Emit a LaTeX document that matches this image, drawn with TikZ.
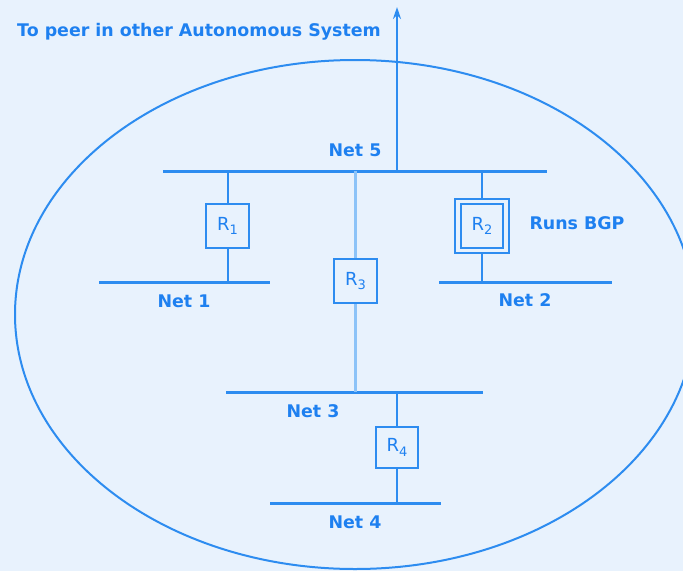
\documentclass[tikz,border=0pt]{standalone}
\usepackage{fontspec}
\setmainfont{DejaVu Sans}
\usetikzlibrary{arrows.meta}

\definecolor{bgblue}{RGB}{232,242,253}
\definecolor{lineblue}{RGB}{45,140,240}
\definecolor{paleblue}{RGB}{140,195,248}
\definecolor{textblue}{RGB}{30,128,240}

\newcommand\rlab[1]{R\raisebox{-.45ex}{\fontsize{13}{13}\selectfont #1}}

\tikzset{
    bus/.style={lineblue, line width=3pt},
    link/.style={lineblue, line width=2pt},
    router/.style={draw=lineblue, line width=2pt, minimum width=43pt, minimum height=44pt,
        inner sep=0pt, text=textblue, font=\fontsize{18}{18}\selectfont},
    netlabel/.style={text=textblue, font=\fontsize{17.4}{17.4}\selectfont\bfseries, inner sep=0pt}
}

\begin{document}
\begin{tikzpicture}[x=1pt, y=-1pt]
    \fill[bgblue] (0,0) rectangle (683,571);
    \useasboundingbox (0,0) rectangle (683,571);
    \clip (0,0) rectangle (683,571);

    % the autonomous system
    \draw[lineblue, line width=2pt] (355,314.5) ellipse [x radius=340, y radius=254.5];

    % buses
    \coordinate (n5l) at (163,171);  \coordinate (n5r) at (547,171);
    \coordinate (n1l) at (99,282);   \coordinate (n1r) at (270,282);
    \coordinate (n2l) at (439,282);  \coordinate (n2r) at (612,282);
    \coordinate (n3l) at (226,392);  \coordinate (n3r) at (483,392);
    \coordinate (n4l) at (270,503);  \coordinate (n4r) at (441,503);
    \draw[bus] (n5l) -- (n5r);
    \draw[bus] (n1l) -- (n1r);
    \draw[bus] (n2l) -- (n2r);
    \draw[bus] (n3l) -- (n3r);
    \draw[bus] (n4l) -- (n4r);

    % routers
    \node[router] (r1) at (227.5,226) {\rlab{1}};
    \node[router, minimum width=54pt, minimum height=54pt] (r2o) at (482,226) {};
    \node[router, minimum width=42pt] (r2) at (r2o) {\rlab{2}};
    \node[router] (r3) at (355.5,281) {\rlab{3}};
    \node[router, minimum width=42pt, minimum height=41pt] (r4) at (397,447.5) {\rlab{4}};

    % links
    \draw[link] (r1) -- (r1 |- n5l);
    \draw[link] (r1) -- (r1 |- n1l);
    \draw[link] (r2o) -- (r2o |- n5l);
    \draw[link] (r2o) -- (r2o |- n2l);
    \draw[paleblue, line width=2.4pt] (r3) -- (r3 |- n5l);
    \draw[paleblue, line width=2.4pt] (r3) -- (r3 |- n3l);
    \draw[link] (r4) -- (r4 |- n3l);
    \draw[link] (r4) -- (r4 |- n4l);

    % to the peer
    \coordinate (up) at (397,171);
    \coordinate (peer) at (397,7);
    \draw[link, -{Stealth[length=12pt, width=8pt]}] (up) -- (peer);

    % labels
    \node[netlabel] (l5) at (355,150) {Net 5};
    \node[netlabel] (l1) at (184,301) {Net 1};
    \node[netlabel] (l2) at (525,300) {Net 2};
    \node[netlabel] (l3) at (313,411) {Net 3};
    \node[netlabel] (l4) at (355,522) {Net 4};
    \node[netlabel] (bgp) at (577,223) {Runs BGP};
    \node[netlabel, anchor=west] (peerlabel) at (17,32) {To peer in other Autonomous System};
\end{tikzpicture}
\end{document}
